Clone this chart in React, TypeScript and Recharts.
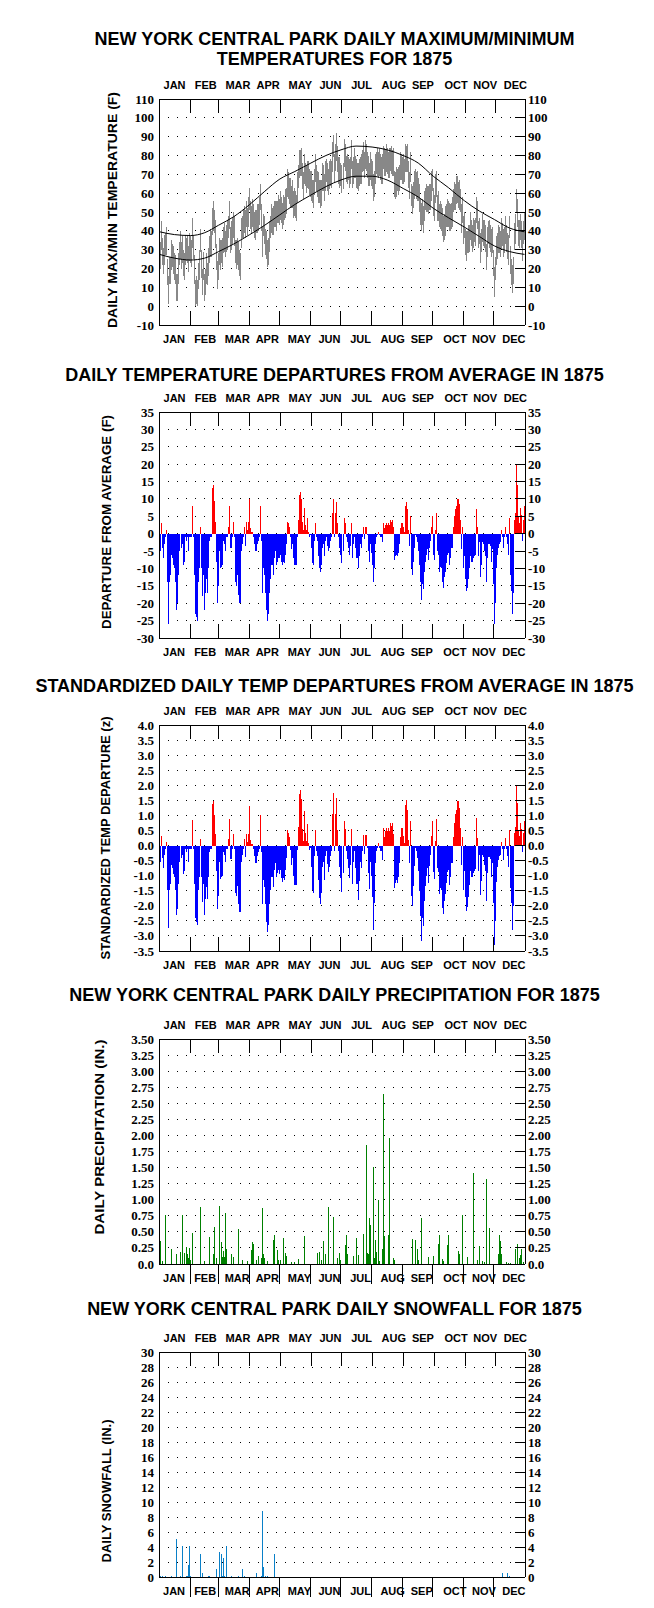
import React from 'react';
import {
    Bar,
    CartesianGrid,
    ComposedChart,
    Line,
    XAxis,
    YAxis,
} from 'recharts';

// ---------- axis / calendar ----------
const MONTHS = ['JAN', 'FEB', 'MAR', 'APR', 'MAY', 'JUN', 'JUL', 'AUG', 'SEP', 'OCT', 'NOV', 'DEC'];
const MONTH_EDGES = [31.5, 59.5, 90.5, 120.5, 151.5, 181.5, 212.5, 243.5, 273.5, 304.5, 334.5];
const MONTH_LABEL_AT = [15.5, 46.5, 78.5, 108.5, 140.5, 170.5, 201.5, 233.5, 262.5, 295.5, 324.5, 354.5];

const TEMP_TICKS = [-10, 0, 10, 20, 30, 40, 50, 60, 70, 80, 90, 100, 110];
const DEP_TICKS = [-30, -25, -20, -15, -10, -5, 0, 5, 10, 15, 20, 25, 30, 35];
const Z_TICKS = [-3.5, -3, -2.5, -2, -1.5, -1, -0.5, 0, 0.5, 1, 1.5, 2, 2.5, 3, 3.5, 4];
const PRCP_TICKS = [0, 0.25, 0.5, 0.75, 1, 1.25, 1.5, 1.75, 2, 2.25, 2.5, 2.75, 3, 3.25, 3.5];
const SNOW_TICKS = [0, 2, 4, 6, 8, 10, 12, 14, 16, 18, 20, 22, 24, 26, 28, 30];

// ---------- daily max / min temperature (F), 1875 ----------
const tmax = [
    25, 34, 45, 36, 31, 38, 39, 42, 25, 16, 26, 26, 35, 33, 32, 28, 27, 17, 17, 28, 34, 40, 34, 38, 30, 28, 38, 36, 38, 32, 39,
    37, 35, 47, 37, 27, 14, 16, 14, 23, 30, 41, 30, 20, 29, 17, 20, 28, 23, 31, 37, 41, 40, 52, 56, 51, 46, 33, 24,
    28, 36, 35, 35, 36, 42, 44, 40, 43, 46, 48, 56, 42, 45, 47, 50, 48, 35, 35, 36, 34, 30, 28, 47, 48, 51, 53, 51, 56, 52, 58,
    63, 56, 53, 57, 54, 50, 51, 51, 54, 54, 58, 65, 54, 42, 49, 48, 41, 40, 35, 36, 45, 48, 54, 52, 53, 56, 56, 56, 56, 59,
    57, 61, 58, 55, 59, 58, 62, 63, 73, 71, 68, 68, 64, 67, 61, 63, 61, 59, 71, 75, 83, 83, 84, 76, 71, 81, 76, 75, 77, 77, 73,
    72, 72, 67, 67, 73, 81, 75, 72, 71, 67, 67, 67, 76, 75, 70, 77, 78, 76, 73, 77, 78, 77, 87, 91, 81, 86, 92, 85, 79, 79,
    76, 75, 76, 89, 86, 80, 81, 79, 78, 79, 88, 77, 79, 84, 80, 78, 76, 76, 78, 79, 81, 83, 87, 82, 88, 86, 82, 80, 76, 82, 78,
    77, 70, 72, 81, 82, 84, 82, 84, 81, 79, 81, 85, 84, 83, 86, 84, 82, 84, 84, 85, 83, 84, 72, 71, 74, 73, 74, 75, 82, 81, 79,
    81, 78, 86, 85, 86, 77, 71, 82, 65, 64, 66, 72, 73, 71, 72, 68, 65, 57, 55, 57, 53, 61, 63, 65, 64, 64, 65, 65, 72, 73,
    63, 59, 70, 72, 59, 61, 54, 56, 54, 52, 48, 49, 53, 54, 57, 56, 55, 54, 55, 58, 62, 66, 65, 69, 69, 66, 67, 62, 54, 58, 48,
    50, 41, 40, 40, 43, 43, 50, 46, 43, 47, 46, 47, 58, 56, 45, 47, 39, 41, 49, 46, 46, 43, 33, 42, 45, 46, 43, 41, 42, 30,
    21, 26, 37, 39, 43, 42, 40, 47, 44, 41, 42, 48, 43, 39, 38, 48, 32, 25, 22, 26, 44, 49, 62, 57, 46, 46, 49, 45, 40, 45, 50,
];
const tmin = [
    10, 20, 30, 22, 17, 22, 27, 27, 11, 1, 12, 12, 19, 21, 17, 14, 12, 3, 3, 12, 22, 25, 20, 23, 16, 14, 22, 24, 23, 18, 24,
    23, 21, 31, 25, 12, 0, 1, 0, 9, 14, 29, 15, 6, 14, 3, 6, 12, 11, 16, 23, 26, 26, 38, 40, 39, 31, 19, 9,
    14, 22, 19, 23, 21, 28, 29, 26, 29, 30, 36, 41, 28, 30, 33, 36, 32, 23, 20, 22, 19, 16, 14, 31, 36, 36, 39, 36, 42, 38, 42,
    51, 41, 39, 42, 40, 36, 35, 39, 39, 40, 43, 51, 40, 26, 37, 33, 27, 25, 21, 22, 29, 36, 39, 38, 38, 42, 42, 40, 44, 44,
    43, 46, 44, 41, 43, 46, 47, 49, 58, 57, 54, 52, 52, 52, 47, 48, 47, 45, 55, 63, 68, 69, 69, 62, 57, 65, 64, 60, 63, 62, 59,
    58, 56, 55, 52, 59, 66, 61, 58, 55, 55, 52, 53, 61, 61, 56, 61, 66, 61, 59, 62, 64, 63, 71, 79, 66, 72, 77, 71, 65, 63,
    64, 60, 62, 74, 72, 66, 65, 67, 63, 65, 73, 63, 65, 68, 68, 63, 62, 61, 64, 65, 65, 71, 72, 68, 73, 72, 68, 64, 64, 67, 64,
    62, 56, 58, 65, 70, 69, 68, 69, 67, 65, 65, 73, 69, 69, 71, 70, 68, 68, 72, 70, 69, 69, 58, 57, 58, 61, 59, 61, 67, 67, 65,
    65, 66, 71, 71, 71, 63, 57, 66, 53, 49, 52, 57, 59, 57, 56, 56, 50, 43, 40, 43, 39, 45, 51, 50, 50, 49, 51, 51, 56, 61,
    48, 45, 55, 58, 45, 45, 42, 41, 40, 37, 34, 35, 37, 42, 42, 42, 40, 40, 41, 42, 50, 51, 51, 54, 55, 52, 51, 50, 39, 44, 33,
    36, 27, 24, 28, 28, 29, 35, 32, 29, 31, 34, 32, 44, 41, 31, 33, 23, 29, 34, 32, 31, 29, 19, 26, 33, 31, 29, 26, 28, 16,
    5, 14, 22, 25, 28, 28, 26, 31, 32, 26, 28, 33, 29, 25, 22, 36, 17, 11, 7, 12, 30, 33, 50, 42, 32, 31, 35, 31, 24, 33, 35,
];

// normal max / min, read at roughly half-month steps
const normDays = [1, 16, 32, 46, 60, 75, 91, 106, 121, 136, 152, 167, 182, 197, 213, 228, 244, 259, 274, 289, 305, 320, 335, 350, 365];
const normMax = [39.5, 38, 37.5, 39, 43, 47.5, 54, 61, 67.5, 71.5, 76, 80, 83, 85, 84.5, 83, 80, 76, 69, 63, 56, 50.5, 46, 41.5, 39.5];
const normMin = [27.5, 25.5, 24.5, 25.5, 29, 33, 38, 43, 48.5, 54, 59, 63.5, 67, 69, 69, 67, 62.5, 58, 52, 47, 42, 37, 32, 29, 27.5];

// ---------- daily departure from average (F) ----------
const departF = [
    -16, -5, 3, -4, -7, -3, -1, 1, -14, -26, -14, -12, -6, -7, -9, -10, -14, -22, -20, -12, -5, 0, -4, -3, -9, -8, -1, -2, -1, -5, -1,
    -1, -1, 8, -1, -12, -23, -24, -25, -14, -10, 2, -10, -18, -12, -22, -17, -13, -17, -10, -2, -1, -1, 13, 14, 9.5, 3.5, -8, -20,
    -15, -5, -10, -9.5, -9, -2, -3, -5, -1, -1, 2, 8, -4, -4, -1, 3.5, -1, -14, -15, -12, -17.5, -20, -20, -5, -3, -1, 2, -3.5, 3.5, 1, 3.5,
    10, 1.5, 0.5, 0.5, -1, -3, -5, -5, -3, -2, -1, 8, -2, -17, -10, -12, -17, -22, -25, -23, -17, -13, -9, -9, -12, -7, -5, -9, -8, -7,
    -7, -6, -8, -9, -8, -8.5, -6, -3, 3.5, 3, 2, -1, -4.5, -3, -7, -9, -9, -9, -1, 4, 11, 12, 10, 3.5, 1, 7.5, 2.5, 1, 4.5, 0.5, -1,
    -0.5, -4, -8.5, -9, -2, 3, -1, -2, -6.5, -10, -11, -9, -4, -3, -6.5, -2, -1, -3.5, -5, -4, -2, -1, 6, 10, -1, 6, 9, 3, -1, -4,
    -6, -8.5, -5, 4.5, 3, -1, -2.5, -4, -6, -3.5, 3, -7, -3, -1, -4, -7, -7, -10, -6.5, -3, -4, -1, 2, -1.5, 2, 2, -0.5, -5, -8, -3, -5.5,
    -9, -14, -10, -3, -1, -0.5, 0.5, -0.5, -1, -1, -2.5, 3, 1.5, 2.5, 3, 2.5, 3, 2.5, 4, 3.5, 4, 2, -7.5, -6.5, -6, -6.5, -5.5, -3, 1.5, 3, 3,
    2, 0.5, 8, 9, 7, 1, -3.5, 5, -10, -12, -8, -4, -0.5, -1, -2.5, -5, -9, -14, -19, -14.5, -16, -11, -8, -6, -4.5, -7.5, -4, -2, 2, 5,
    -6, -7.5, 1, 6, -5, -6, -11, -9.5, -10, -14, -15.5, -12.5, -11, -8.5, -6, -5.5, -9, -7, -4, -4, 2, 5, 7, 8, 10, 10, 8.5, 4, -4.5, 2, -10,
    -6.5, -13, -16.5, -15.5, -13, -10, -6.5, -8, -8, -7, -6.5, -6, 7, 2, -6.5, -2.5, -12.5, -9, -2.5, -3, -5, -6.5, -14, -7, -3, -3, -3.5, -8, -4.5, -14.5,
    -26, -20, -10, -6, -4, -3, -2.5, 1, -1, -4, -1, 2, -1, -3, -6, 4.5, -12, -16.5, -23, -17, 4, 6, 20, 14, 5, 3, 7.5, 5.5, -2, 4, 8,
];

// ---------- standardized daily departure (z) ----------
const departZ = [
    -1.68, -0.53, 0.32, -0.42, -0.74, -0.32, -0.11, 0.11, -1.47, -2.74, -1.47, -1.26, -0.63, -0.74, -0.95, -1.05, -1.47, -2.32, -2.11, -1.26, -0.53, 0, -0.42, -0.32, -0.95, -0.84, -0.11, -0.21, -0.11, -0.53, -0.11,
    -0.11, -0.11, 0.84, -0.11, -1.26, -2.42, -2.53, -2.63, -1.47, -1.05, 0.21, -1.05, -1.89, -1.26, -2.32, -1.79, -1.37, -1.79, -1.05, -0.21, -0.11, -0.11, 1.37, 1.47, 1.0, 0.37, -0.84, -2.11,
    -1.67, -0.56, -1.11, -1.06, -1.0, -0.22, -0.33, -0.56, -0.11, -0.11, 0.22, 0.89, -0.44, -0.44, -0.11, 0.39, -0.11, -1.56, -1.67, -1.33, -1.94, -2.22, -2.22, -0.56, -0.33, -0.11, 0.22, -0.39, 0.39, 0.11, 0.39,
    1.3, 0.17, 0.06, 0.06, -0.11, -0.34, -0.57, -0.57, -0.34, -0.23, -0.11, 1.0, -0.23, -1.95, -1.15, -1.38, -1.95, -2.53, -2.87, -2.64, -1.95, -1.49, -1.03, -1.03, -1.38, -0.8, -0.57, -1.03, -0.92, -0.8,
    -0.93, -0.8, -1.07, -1.2, -1.07, -1.13, -0.8, -0.4, 0.5, 0.43, 0.29, -0.14, -0.64, -0.43, -1.0, -1.3, -1.3, -1.3, -0.15, 0.6, 1.7, 1.85, 1.55, 0.55, 0.15, 1.15, 0.4, 0.15, 0.7, 0.08, -0.15,
    -0.09, -0.7, -1.49, -1.58, -0.35, 0.53, -0.18, -0.35, -1.14, -1.75, -1.93, -1.58, -0.7, -0.53, -1.14, -0.35, -0.18, -0.61, -0.88, -0.7, -0.35, -0.18, 1.05, 1.75, -0.18, 1.05, 1.58, 0.53, -0.18, -0.7,
    -1.09, -1.55, -0.91, 0.82, 0.55, -0.18, -0.45, -0.73, -1.09, -0.64, 0.55, -1.27, -0.55, -0.18, -0.73, -1.27, -1.27, -1.82, -1.18, -0.55, -0.73, -0.18, 0.36, -0.27, 0.36, 0.36, -0.09, -0.91, -1.45, -0.55, -1.0,
    -1.7, -2.8, -1.9, -0.57, -0.19, -0.09, 0.09, -0.09, -0.19, -0.19, -0.47, 0.57, 0.28, 0.47, 0.57, 0.47, 0.57, 0.47, 0.75, 0.66, 0.75, 0.38, -1.42, -1.23, -1.13, -1.23, -1.04, -0.57, 0.28, 0.57, 0.57,
    0.33, 0.08, 1.33, 1.5, 1.17, 0.17, -0.58, 0.83, -1.67, -2.0, -1.33, -0.67, -0.08, -0.17, -0.42, -0.83, -1.5, -2.33, -3.17, -2.42, -2.67, -1.83, -1.33, -1.0, -0.75, -1.25, -0.67, -0.33, 0.33, 0.83,
    -0.88, -1.1, 0.15, 0.88, -0.74, -0.88, -1.62, -1.4, -1.47, -2.06, -2.28, -1.84, -1.62, -1.25, -0.88, -0.81, -1.32, -1.03, -0.59, -0.59, 0.29, 0.74, 1.03, 1.18, 1.47, 1.47, 1.25, 0.59, -0.66, 0.29, -1.47,
    -0.86, -1.71, -2.17, -2.04, -1.71, -1.32, -0.86, -1.05, -1.05, -0.92, -0.86, -0.79, 0.92, 0.26, -0.86, -0.33, -1.64, -1.18, -0.33, -0.39, -0.66, -0.86, -1.84, -0.92, -0.39, -0.39, -0.46, -1.05, -0.59, -1.91,
    -3.3, -2.5, -1.2, -0.7, -0.47, -0.35, -0.3, 0.12, -0.12, -0.47, -0.12, 0.24, -0.12, -0.35, -0.7, 0.5, -1.4, -1.9, -2.8, -2.0, 0.4, 0.6, 2.0, 1.4, 0.5, 0.3, 0.75, 0.55, -0.2, 0.4, 0.8,
];

// ---------- precipitation (in.), only wet days listed ----------
const prcpDays = [
    2, 4, 7, 13, 18, 22, 24, 26, 28, 29, 30, 31, 32, 34, 42, 46, 51, 55, 56, 58, 61, 63, 64, 65, 66, 67, 68, 73, 75, 80, 84, 89,
    93, 94, 95, 98, 100, 103, 104, 105, 106, 109, 115, 116, 119, 120, 122, 125, 127, 128, 133, 136, 140, 146, 159, 161, 163, 165,
    167, 170, 175, 179, 181, 182, 186, 187, 188, 194, 197, 199, 204, 207, 208, 209, 210, 211, 214, 215, 216, 217, 219, 220, 223,
    224, 225, 229, 230, 234, 235, 253, 256, 258, 259, 262, 269, 274, 279, 280, 283, 284, 288, 289, 299, 300, 303, 308, 314, 318,
    320, 323, 325, 327, 330, 339, 340, 341, 342, 347, 349, 351, 356, 358, 360, 361, 362, 364,
];
const prcpIn = [
    0.36, 0.04, 0.76, 0.23, 0.16, 0.18, 0.76, 0.17, 0.26, 0.16, 0.09, 0.25, 0.06, 0.49, 0.89, 0.04, 0.42, 0.15, 0.57, 0.09, 0.9, 0.35, 0.11, 0.21, 0.11, 0.8, 0.23, 0.15, 0.11, 0.54, 0.07, 0.04,
    0.22, 0.34, 0.31, 0.06, 0.12, 0.1, 0.87, 0.16, 0.09, 0.04, 0.37, 0.45, 0.22, 0.06, 0.06, 0.4, 0.17, 0.13, 0.03, 0.03, 0.08, 0.44, 0.17, 0.18, 0.06, 0.36,
    0.16, 0.89, 0.73, 0.09, 0.17, 0.07, 0.3, 0.45, 0.15, 0.12, 0.41, 0.14, 0.47, 1.85, 0.17, 0.16, 0.71, 0.61, 1.51, 0.09, 0.37, 0.19, 1.0, 0.05, 0.23,
    2.64, 0.44, 0.45, 1.96, 0.09, 0.06, 0.39, 0.37, 0.24, 0.07, 0.71, 0.11, 0.12, 0.31, 0.45, 0.08, 0.04, 0.3, 0.45, 0.21, 0.15, 0.76, 0.11, 1.41, 0.06,
    0.28, 0.04, 0.03, 1.32, 0.56, 0.15, 0.45, 0.36, 0.15, 0.03, 0.02, 0.02, 0.23, 0.31, 0.09, 0.14, 0.23, 0.03,
];

// ---------- snowfall (in.), only snow days listed ----------
const snowDays = [2, 4, 7, 13, 18, 22, 24, 28, 29, 30, 31, 32, 42, 44, 50, 51, 58, 61, 63, 64, 65, 66, 68, 73, 80, 84, 86, 98, 103, 104, 105, 107, 109, 116, 343, 348, 350];
const snowIn = [0.2, 0.2, 0.2, 0.2, 5.1, 0.2, 4.1, 0.2, 0.2, 1.6, 4.1, 0.2, 3.1, 0.5, 0.2, 0.2, 1.1, 3.3, 3.1, 0.2, 2.5, 0.2, 4.1, 0.2, 0.2, 1.1, 0.2, 0.5, 0.2, 8.8, 1.3, 0.2, 0.2, 3.1, 0.5, 0.5, 0.2];

// ---------- tables for the charts ----------
const DAYS = tmax.map((_, i) => i + 1);

const tempRows: any[] = DAYS.map((d, i) => ({ day: d, range: [tmin[i], tmax[i]], nmax: null, nmin: null }));
normDays.forEach((d, k) => {
    tempRows[d - 1].nmax = normMax[k];
    tempRows[d - 1].nmin = normMin[k];
});
const depRows = DAYS.map((d, i) => ({
    day: d,
    up: departF[i] > 0 ? departF[i] : 0,
    down: departF[i] < 0 ? departF[i] : 0,
}));
const zRows = DAYS.map((d, i) => ({
    day: d,
    up: departZ[i] > 0 ? departZ[i] : 0,
    down: departZ[i] < 0 ? departZ[i] : 0,
}));
const prcpRows = DAYS.map((d) => {
    const k = prcpDays.indexOf(d);
    return { day: d, p: k >= 0 ? prcpIn[k] : 0 };
});
const snowRows = DAYS.map((d) => {
    const k = snowDays.indexOf(d);
    return { day: d, s: k >= 0 ? snowIn[k] : 0 };
});

// ---------- layout ----------
const PAD = 40;
const X_TICKS = [...MONTH_EDGES, ...MONTH_LABEL_AT].sort((a, b) => a - b);
const SANS = '"Liberation Sans", Arial, Helvetica, sans-serif';
const SERIF = '"Liberation Serif", "Times New Roman", serif';

const fmtInt = (v: number) => String(v);
const fmtOne = (v: number) => v.toFixed(1);
const fmtPrcp = (v: number) => (v === 0 ? '0.0' : v.toFixed(2));

function monthIndex(v: number) {
    return MONTH_LABEL_AT.indexOf(v);
}

function TopTick(props: any) {
    const { x, y, payload } = props;
    const i = monthIndex(payload.value);
    if (i < 0) {
        return <line x1={x} x2={x} y1={y} y2={y + 14} stroke="#000" shapeRendering="crispEdges" />;
    }
    return (
        <text x={x} y={y - 10} textAnchor="middle" fontFamily={SANS} fontWeight="bold" fontSize={11} fill="#000">
            {MONTHS[i]}
        </text>
    );
}

function BottomTick(props: any) {
    const { x, y, payload, outward } = props;
    const i = monthIndex(payload.value);
    if (i < 0) {
        return (
            <line x1={x} x2={x} y1={y} y2={outward ? y + 20 : y - 14} stroke="#000" shapeRendering="crispEdges" />
        );
    }
    return (
        <text x={x} y={y + 18} textAnchor="middle" fontFamily={SANS} fontWeight="bold" fontSize={11} fill="#000">
            {MONTHS[i]}
        </text>
    );
}

function LeftTick(props: any) {
    const { x, y, payload, fmt } = props;
    return (
        <text x={x - 5} y={y} dy="0.35em" textAnchor="end" fontFamily={SERIF} fontWeight="bold" fontSize={13} fill="#000">
            {fmt(payload.value)}
        </text>
    );
}

function RightTick(props: any) {
    const { x, y, payload, fmt } = props;
    return (
        <g>
            <line x1={x - 10} x2={x} y1={y} y2={y} stroke="#000" shapeRendering="crispEdges" />
            <text x={x + 3} y={y} dy="0.35em" textAnchor="start" fontFamily={SERIF} fontWeight="bold" fontSize={13} fill="#000">
                {fmt(payload.value)}
            </text>
        </g>
    );
}

// mirrored axes take no room, so the plot box is set by the margins alone
function frame(domain: [number, number], ticks: number[], fmt: (v: number) => string, outward: boolean) {
    return [
        <CartesianGrid
            key="grid"
            xAxisId="b"
            yAxisId="l"
            vertical={false}
            stroke="#000"
            strokeDasharray="1 8"
        />,
        <XAxis
            key="xt"
            xAxisId="t"
            orientation="top"
            mirror
            type="number"
            domain={[0.5, 365.5]}
            allowDataOverflow
            ticks={X_TICKS}
            interval={0}
            height={30}
            tickSize={0}
            tickMargin={0}
            tickLine={false}
            axisLine={{ stroke: '#000' }}
            tick={(p: any) => <TopTick {...p} />}
        />,
        <XAxis
            key="xb"
            xAxisId="b"
            dataKey="day"
            orientation="bottom"
            mirror
            type="number"
            domain={[0.5, 365.5]}
            allowDataOverflow
            ticks={X_TICKS}
            interval={0}
            height={30}
            tickSize={0}
            tickMargin={0}
            tickLine={false}
            axisLine={{ stroke: '#000' }}
            tick={(p: any) => <BottomTick {...p} outward={outward} />}
        />,
        <YAxis
            key="yl"
            yAxisId="l"
            mirror
            type="number"
            domain={domain}
            allowDataOverflow
            ticks={ticks}
            interval={0}
            width={30}
            tickSize={0}
            tickMargin={0}
            tickLine={false}
            axisLine={{ stroke: '#000' }}
            tick={(p: any) => <LeftTick {...p} fmt={fmt} />}
        />,
        <YAxis
            key="yr"
            yAxisId="r"
            orientation="right"
            mirror
            type="number"
            domain={domain}
            allowDataOverflow
            ticks={ticks}
            interval={0}
            width={30}
            tickSize={0}
            tickMargin={0}
            tickLine={false}
            axisLine={{ stroke: '#000' }}
            tick={(p: any) => <RightTick {...p} fmt={fmt} />}
        />,
    ];
}

const chartMargin = { top: PAD, bottom: PAD, left: 159, right: 129 };

function Place({ top, children }: { top: number; children: React.ReactNode }) {
    return <div style={{ position: 'absolute', left: 0, top: top - PAD }}>{children}</div>;
}

const titles = [
    { y: 44.5, text: 'NEW YORK CENTRAL PARK DAILY MAXIMUM/MINIMUM' },
    { y: 64.5, text: 'TEMPERATURES FOR 1875' },
    { y: 380.5, text: 'DAILY TEMPERATURE DEPARTURES FROM AVERAGE IN 1875' },
    { y: 691.5, text: 'STANDARDIZED DAILY TEMP DEPARTURES FROM AVERAGE IN 1875' },
    { y: 1000.5, text: 'NEW YORK CENTRAL PARK DAILY PRECIPITATION FOR 1875' },
    { y: 1314.5, text: 'NEW YORK CENTRAL PARK DAILY SNOWFALL FOR 1875' },
];

const yTitles = [
    { x: 112, y: 210, len: 236, text: 'DAILY MAX/MIN TEMPERATURE (F)' },
    { x: 106, y: 522, len: 214, text: 'DEPARTURE FROM AVERAGE (F)' },
    { x: 105, y: 838, len: 243, text: 'STANDARDIZED TEMP DEPARTURE (z)' },
    { x: 99, y: 1137, len: 195, text: 'DAILY PRECIPITATION (IN.)' },
    { x: 106, y: 1491, len: 143, text: 'DAILY SNOWFALL (IN.)' },
];

const css = `
body { margin: 0; }
.recharts-rectangle { shape-rendering: crispEdges; }
.recharts-cartesian-grid line, .recharts-cartesian-axis-line { shape-rendering: crispEdges; }
`;

export default function App() {
    return (
        <div style={{ position: 'relative', width: 654, height: 1608, background: '#fff', overflow: 'hidden' }}>
            <style>{css}</style>

            <Place top={99}>
                <ComposedChart width={654} height={PAD * 2 + 226} data={tempRows} margin={chartMargin} barCategoryGap={0} barGap={0}>
                    {frame([-10, 110], TEMP_TICKS, fmtInt, false)}
                    <Bar xAxisId="b" yAxisId="l" dataKey="range" fill="#888888" barSize={1} isAnimationActive={false} />
                    <Line xAxisId="b" yAxisId="l" type="monotone" dataKey="nmax" stroke="#000" strokeWidth={1} dot={false} connectNulls isAnimationActive={false} />
                    <Line xAxisId="b" yAxisId="l" type="monotone" dataKey="nmin" stroke="#000" strokeWidth={1} dot={false} connectNulls isAnimationActive={false} />
                </ComposedChart>
            </Place>

            <Place top={412}>
                <ComposedChart width={654} height={PAD * 2 + 226} data={depRows} margin={chartMargin} barCategoryGap={0} barGap={0} stackOffset="sign">
                    {frame([-30, 35], DEP_TICKS, fmtInt, false)}
                    <Bar xAxisId="b" yAxisId="l" dataKey="up" stackId="d" fill="#ff0000" barSize={1} isAnimationActive={false} />
                    <Bar xAxisId="b" yAxisId="l" dataKey="down" stackId="d" fill="#0000ff" barSize={1} isAnimationActive={false} />
                </ComposedChart>
            </Place>

            <Place top={725}>
                <ComposedChart width={654} height={PAD * 2 + 226} data={zRows} margin={chartMargin} barCategoryGap={0} barGap={0} stackOffset="sign">
                    {frame([-3.5, 4], Z_TICKS, fmtOne, false)}
                    <Bar xAxisId="b" yAxisId="l" dataKey="up" stackId="z" fill="#ff0000" barSize={1} isAnimationActive={false} />
                    <Bar xAxisId="b" yAxisId="l" dataKey="down" stackId="z" fill="#0000ff" barSize={1} isAnimationActive={false} />
                </ComposedChart>
            </Place>

            <Place top={1039}>
                <ComposedChart width={654} height={PAD * 2 + 225} data={prcpRows} margin={chartMargin} barCategoryGap={0} barGap={0}>
                    {frame([0, 3.5], PRCP_TICKS, fmtPrcp, true)}
                    <Bar xAxisId="b" yAxisId="l" dataKey="p" fill="#008000" barSize={1} isAnimationActive={false} />
                </ComposedChart>
            </Place>

            <Place top={1352}>
                <ComposedChart width={654} height={PAD * 2 + 225} data={snowRows} margin={chartMargin} barCategoryGap={0} barGap={0}>
                    {frame([0, 30], SNOW_TICKS, fmtInt, true)}
                    <Bar xAxisId="b" yAxisId="l" dataKey="s" fill="#0a80c8" barSize={1} isAnimationActive={false} />
                </ComposedChart>
            </Place>

            <svg width={654} height={1608} style={{ position: 'absolute', left: 0, top: 0, pointerEvents: 'none' }}>
                {titles.map((t) => (
                    <text key={t.text} x={334.5} y={t.y} textAnchor="middle" fontFamily={SANS} fontWeight="bold" fontSize={18} fill="#000">
                        {t.text}
                    </text>
                ))}
                {yTitles.map((t) => (
                    <text
                        key={t.text}
                        x={t.x + 4.5}
                        y={t.y}
                        transform={`rotate(-90 ${t.x + 4.5} ${t.y})`}
                        textAnchor="middle"
                        fontFamily={SANS}
                        fontWeight="bold"
                        fontSize={12.5}
                        textLength={t.len}
                        lengthAdjust="spacingAndGlyphs"
                        fill="#000"
                    >
                        {t.text}
                    </text>
                ))}
            </svg>
        </div>
    );
}
